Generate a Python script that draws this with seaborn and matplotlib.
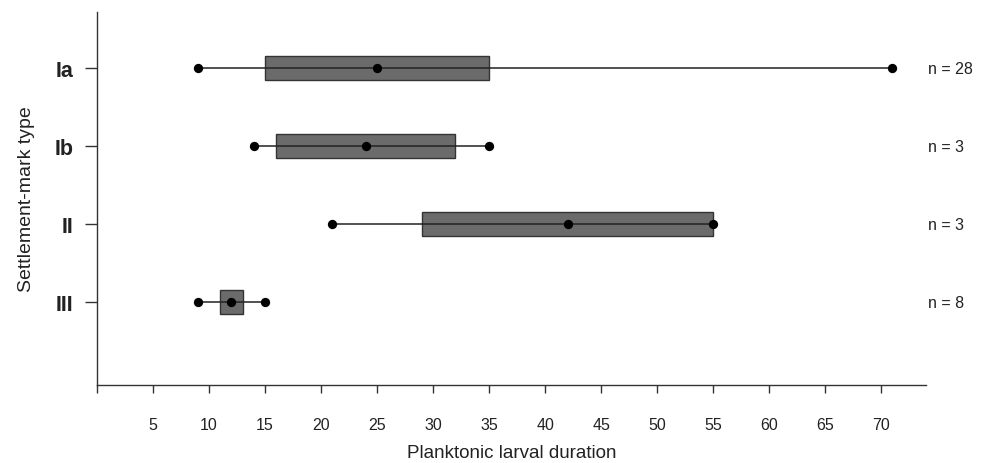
import numpy as np
import pandas as pd
import seaborn as sns
import matplotlib.pyplot as plt

types = ["Ia", "Ib", "II", "III"]
mins = [9, 14, 21, 9]
q1 = [15, 16, 29, 11]
medians = [25, 24, 42, 12]
q3 = [35, 32, 55, 13]
maxs = [71, 35, 55, 15]
n_labels = ["n = 28", "n = 3", "n = 3", "n = 8"]
xticks = [0, 5, 10, 15, 20, 25, 30, 35, 40, 45, 50, 55, 60, 65, 70]
xticklabels = [""] + [str(t) for t in xticks[1:]]


def main():
    sns.set_style("white")
    plt.rcParams['font.family'] = ['Liberation Sans', 'DejaVu Sans']

    # five-number summaries as long data; 5 values -> quartiles land on them exactly
    rows = []
    for i, t in enumerate(types):
        for v in (mins[i], q1[i], medians[i], q3[i], maxs[i]):
            rows.append({"type": t, "value": v})
    df = pd.DataFrame(rows)

    fig = plt.figure(figsize=(9.81, 4.64), dpi=100)
    ax = fig.add_axes([0.0989, 0.168, 0.845, 0.804])

    sns.boxplot(data=df, x="value", y="type", order=types, orient="h",
                whis=(0, 100), width=0.31, color="#6b6b6b", linecolor="#333333",
                linewidth=1.0, showcaps=False, showfliers=False,
                medianprops={"visible": False}, whiskerprops={"visible": False},
                saturation=1, ax=ax)

    ypos = np.arange(len(types))
    ax.hlines(ypos, mins, maxs, color="#222222", linewidth=1.1, zorder=4)

    pts = pd.DataFrame({
        "value": mins + medians + maxs,
        "pos": list(ypos) * 3,
    })
    sns.scatterplot(data=pts, x="value", y="pos", color="black", s=45,
                    edgecolor="black", linewidth=0, zorder=5, ax=ax, legend=False)

    for i, lab in enumerate(n_labels):
        ax.text(74.2, ypos[i], lab, ha="left", va="center", fontsize=11.5,
                color="#222222", clip_on=False)

    ax.set_xlim(0, 74)
    ax.set_ylim(4.06, -0.72)
    ax.set_xticks(xticks)
    ax.set_xticklabels(xticklabels, fontsize=11.5, color="#222222")
    ax.set_yticks(ypos)
    ax.set_yticklabels(types, fontsize=15.5, fontweight="semibold", color="#222222")
    ax.set_xlabel("Planktonic larval duration", fontsize=13.5, color="#222222", labelpad=9)
    ax.set_ylabel("Settlement-mark type", fontsize=14, color="#222222", labelpad=14)

    for side in ("top", "right"):
        ax.spines[side].set_visible(False)
    for side in ("left", "bottom"):
        ax.spines[side].set_color("#333333")
        ax.spines[side].set_linewidth(1.0)
    ax.tick_params(axis="x", direction="out", length=6, width=1, color="#333333", pad=17, bottom=True)
    ax.tick_params(axis="y", direction="out", length=9, width=1, color="#333333", pad=8, left=True)

    plt.savefig("out.png", dpi=100)


if __name__ == '__main__':
    main()
